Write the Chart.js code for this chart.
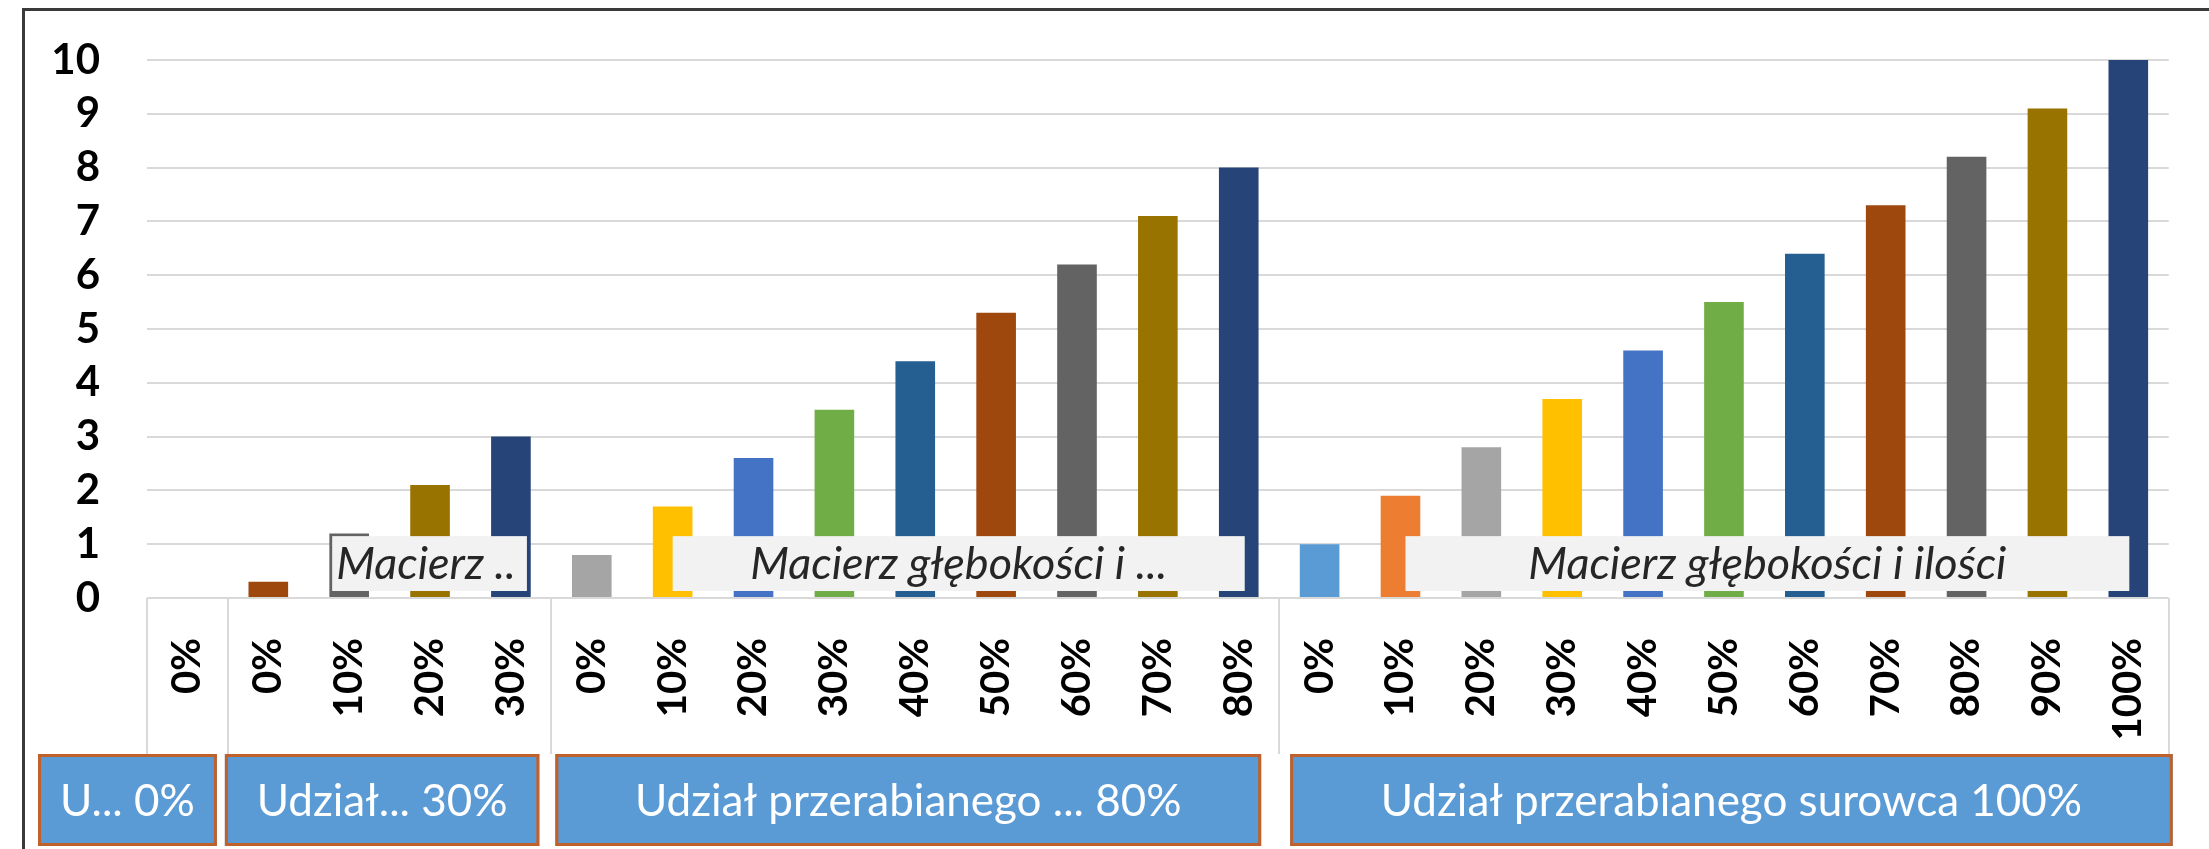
<!DOCTYPE html>
<html lang="pl">
<head>
<meta charset="utf-8">
<title>Udział przerabianego surowca</title>
<script src="https://cdn.jsdelivr.net/npm/chart.js@4.4.1/dist/chart.umd.min.js"></script>
<style>
  html, body { margin: 0; padding: 0; background: #fff; }
  #wrap { width: 2209px; height: 849px; }
</style>
</head>
<body>
<div id="wrap"><canvas id="chart" width="2209" height="849"></canvas></div>
<script>
// Kategorie osi X (udział w obrębie grupy)
const categories = [
  '0%',
  '0%', '10%', '20%', '30%',
  '0%', '10%', '20%', '30%', '40%', '50%', '60%', '70%', '80%',
  '0%', '10%', '20%', '30%', '40%', '50%', '60%', '70%', '80%', '90%', '100%',
];

// Grupy zewnętrzne: ile kategorii w grupie + etykieta przycisku
const groupSizes  = [1, 4, 9, 11];
const groupLabels = ['U... 0%', 'Udział... 30%', 'Udział przerabianego ... 80%', 'Udział przerabianego surowca 100%'];

// Pola macierzy (grupy 2–4)
const matrixLabels = ['Macierz ..', 'Macierz głębokości i ...', 'Macierz głębokości i ilości'];

const values = [
  0,
  0.3, 1.2, 2.1, 3.0,
  0.8, 1.7, 2.6, 3.5, 4.4, 5.3, 6.2, 7.1, 8.0,
  1.0, 1.9, 2.8, 3.7, 4.6, 5.5, 6.4, 7.3, 8.2, 9.1, 10.0,
];

const yMin = 0, yMax = 10, yStep = 1;

// Kolory słupków (paleta Office)
const barColors = [
  '#5B9BD5',
  '#9E480E', '#636363', '#997300', '#264478',
  '#A5A5A5', '#FFC000', '#4472C4', '#70AD47', '#255E91', '#9E480E', '#636363', '#997300', '#264478',
  '#5B9BD5', '#ED7D31', '#A5A5A5', '#FFC000', '#4472C4', '#70AD47', '#255E91', '#9E480E', '#636363', '#997300', '#264478',
];

const FONT = 'Lato, "Open Sans", sans-serif';

// granice grup w indeksach kategorii: [0, 1, 5, 14, 25]
const groupEdges = groupSizes.reduce((acc, n) => (acc.push(acc[acc.length - 1] + n), acc), [0]);

// przesunięcia przycisków grup względem granic grupy (px): [lewa, prawa]
const buttonInsets = [[-109, -11], [-3, -12], [4, -18], [11, 4]];
// zakres pól macierzy: [indeks startu, przesunięcie, indeks końca, przesunięcie, wyrównanie]
const matrixSpans = [[2, -17, 4, 16, 'left'], [6, 0, 13, 6, 'center'], [15, 5, 24, 1, 'center']];

const overlays = {
  id: 'overlays',
  beforeDraw(chart) {
    const { ctx } = chart;
    ctx.save();
    ctx.fillStyle = '#fff';
    ctx.fillRect(0, 0, chart.width, chart.height);
    // ramka wykresu (lewa i górna krawędź)
    ctx.strokeStyle = '#3a3a3a';
    ctx.lineWidth = 3;
    ctx.beginPath();
    ctx.moveTo(23.5, chart.height);
    ctx.lineTo(23.5, 9.5);
    ctx.lineTo(chart.width, 9.5);
    ctx.stroke();
    ctx.restore();
  },
  afterDatasetsDraw(chart) {
    const { ctx, scales: { x, y } } = chart;
    const top = y.getPixelForValue(1.15);
    const bottom = y.getPixelForValue(0.13);
    ctx.save();
    matrixSpans.forEach(([i0, d0, i1, d1, align], k) => {
      const left = x.getPixelForValue(i0) + d0;
      const right = x.getPixelForValue(i1) + d1;
      ctx.fillStyle = '#f2f2f2';
      ctx.fillRect(left, top, right - left, bottom - top);
      ctx.save();
      ctx.beginPath();
      ctx.rect(left, top, right - left, bottom - top);
      ctx.clip();
      ctx.fillStyle = '#262626';
      ctx.font = 'italic 45px ' + FONT;
      ctx.textBaseline = 'middle';
      ctx.textAlign = align;
      const tx = align === 'left' ? left + 4 : (left + right) / 2;
      ctx.fillText(matrixLabels[k], tx, (top + bottom) / 2 + 1);
      ctx.restore();
    });
    ctx.restore();
  },
  afterDraw(chart) {
    const { ctx, chartArea, scales: { x } } = chart;
    const cw = (x.right - x.left) / categories.length;
    const btnTop = 754, btnBottom = 846;
    ctx.save();
    // pionowe separatory grup pod osią
    ctx.strokeStyle = '#d9d9d9';
    ctx.lineWidth = 2;
    groupEdges.forEach(idx => {
      const px = Math.round(x.left + idx * cw);
      ctx.beginPath();
      ctx.moveTo(px, chartArea.bottom);
      ctx.lineTo(px, btnTop);
      ctx.stroke();
    });
    // przyciski grup
    groupLabels.forEach((label, g) => {
      const left = x.left + groupEdges[g] * cw + buttonInsets[g][0];
      const right = x.left + groupEdges[g + 1] * cw + buttonInsets[g][1];
      ctx.fillStyle = '#5B9BD5';
      ctx.fillRect(left, btnTop, right - left, btnBottom - btnTop);
      ctx.strokeStyle = '#C0602A';
      ctx.lineWidth = 3;
      ctx.strokeRect(left + 1.5, btnTop + 1.5, right - left - 3, btnBottom - btnTop - 3);
      ctx.fillStyle = '#fff';
      ctx.font = '44px ' + FONT;
      ctx.textAlign = 'center';
      ctx.textBaseline = 'middle';
      ctx.fillText(label, (left + right) / 2, (btnTop + btnBottom) / 2 + 2);
    });
    ctx.restore();
  },
};

new Chart(document.getElementById('chart'), {
  type: 'bar',
  data: {
    labels: categories,
    datasets: [{
      data: values,
      backgroundColor: barColors,
      borderWidth: 0,
      categoryPercentage: 1,
      barPercentage: 0.49,
    }],
  },
  options: {
    responsive: false,
    devicePixelRatio: 1,
    animation: false,
    layout: { padding: { top: 60, left: 0, right: 35, bottom: 0 } },
    plugins: { legend: { display: false }, tooltip: { enabled: false } },
    scales: {
      x: {
        afterFit: s => { s.height = 251; },
        grid: { display: false },
        border: { display: false },
        ticks: {
          autoSkip: false,
          minRotation: 90,
          maxRotation: 90,
          padding: 32,
          color: '#000',
          font: { family: FONT, size: 40, weight: 'bold' },
        },
      },
      y: {
        min: yMin,
        max: yMax,
        // szerokość osi stała, bez dodatkowego marginesu nad „10”
        afterFit: s => { s.width = 147; s.paddingTop = 0; s.paddingBottom = 0; },
        border: { display: false },
        grid: { color: '#d9d9d9', lineWidth: 2, drawTicks: false },
        ticks: {
          stepSize: yStep,
          autoSkip: false,
          padding: 47,
          color: '#000',
          font: { family: FONT, size: 42, weight: 'bold' },
        },
      },
    },
  },
  plugins: [overlays],
});
</script>
</body>
</html>
